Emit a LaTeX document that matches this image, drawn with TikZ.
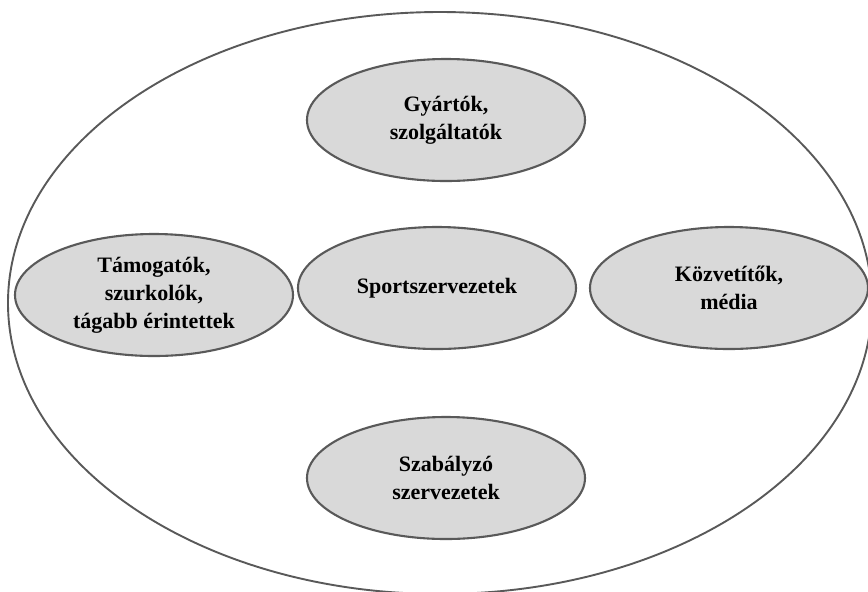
\documentclass[tikz,border=0pt]{standalone}
\usepackage{fontspec}
\setmainfont{Liberation Serif}
\usetikzlibrary{shapes.geometric}
\definecolor{rim}{HTML}{595959}
\definecolor{shade}{HTML}{D9D9D9}
\begin{document}
\begin{tikzpicture}[
	x=0.5pt, y=-0.5pt,
	grp/.style={
		ellipse, draw=rim, fill=shade, line width=1.05pt,
		minimum width=139pt, minimum height=61pt, inner sep=0pt,
		align=center, font=\fontsize{11}{14}\selectfont\bfseries
	},
	outer/.style={ellipse, draw=rim, line width=0.95pt,
		minimum width=432pt, minimum height=291pt, inner sep=0pt}
]
\useasboundingbox (0,0) rectangle (868,591);

\node[outer] (env) at (440,303) {};

\node[grp] (maker)   at (446,120) {Gyártók,\\szolgáltatók};
\node[grp] (fans)    at (154,295) {Támogatók,\\szurkolók,\\tágabb érintettek};
\node[grp] (sport)   at (437,288) {Sportszervezetek};
\node[grp] (media)   at (729,288) {Közvetítők,\\média};
\node[grp] (rules)   at (446,478) {Szabályzó\\szervezetek};

\end{tikzpicture}
\end{document}
